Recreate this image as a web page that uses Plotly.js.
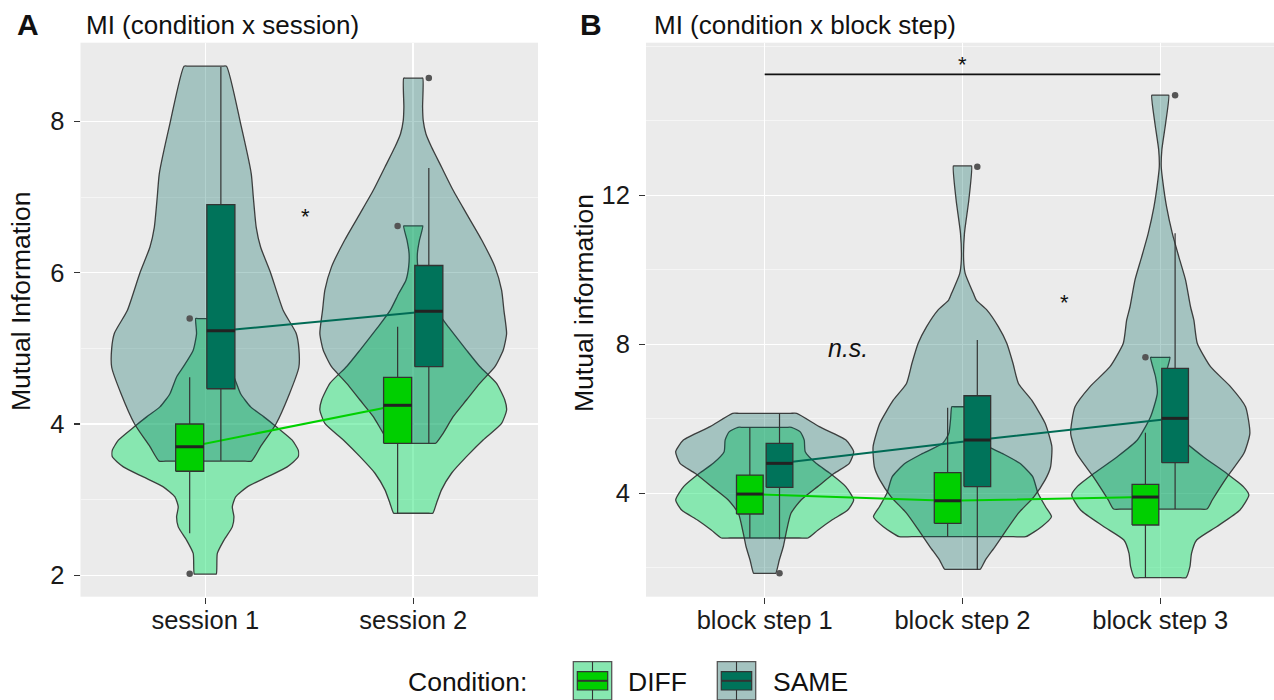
<!DOCTYPE html>
<html>
<head>
<meta charset="utf-8">
<script src="https://cdn.plot.ly/plotly-3.0.1.min.js"></script>
<style>
  html, body { margin: 0; padding: 0; background: #ffffff; }
  #chart { width: 1274px; height: 700px; }
</style>
</head>
<body>
<div id="chart"></div>
<script>
// ---------------- Panel A: MI by condition x session ----------------
const sessions = ['session 1', 'session 2'];

// violin outlines: y values and half-widths (category units)
const diffS1Y = [2.016, 2.289, 2.465, 2.64, 2.773, 2.905, 3.037, 3.169, 3.30, 3.433, 3.566, 3.654, 3.786, 3.96, 4.094, 4.226, 4.40, 4.622, 4.754, 4.975, 5.195, 5.394];
const diffS1W = [0.053, 0.058, 0.09, 0.13, 0.138, 0.13, 0.146, 0.202, 0.298, 0.394, 0.447, 0.447, 0.418, 0.343, 0.282, 0.218, 0.17, 0.138, 0.106, 0.058, 0.042, 0.046];
const sameS1Y = [3.51, 3.7, 4.0, 4.4, 4.75, 5.0, 5.2, 5.5, 6.0, 6.34, 6.6, 7.0, 7.31, 7.97, 8.73];
const sameS1W = [0.222, 0.266, 0.34, 0.405, 0.45, 0.45, 0.437, 0.375, 0.314, 0.266, 0.245, 0.231, 0.221, 0.17, 0.102];
const diffS2Y = [2.82, 2.953, 3.129, 3.349, 3.568, 3.789, 4.009, 4.185, 4.32, 4.54, 4.76, 4.977, 5.28, 5.505, 5.725, 5.9, 6.077, 6.253, 6.429, 6.618];
const diffS2W = [0.094, 0.112, 0.136, 0.184, 0.256, 0.336, 0.425, 0.449, 0.44, 0.40, 0.32, 0.256, 0.17, 0.11, 0.07, 0.035, 0.022, 0.02, 0.03, 0.046];
const sameS2Y = [3.745, 3.877, 4.097, 4.317, 4.537, 4.757, 4.977, 5.197, 5.505, 5.769, 6.077, 6.429, 6.781, 7.089, 7.397, 7.661, 7.837, 8.013, 8.189, 8.572];
const sameS2W = [0.108, 0.144, 0.192, 0.256, 0.32, 0.393, 0.433, 0.449, 0.436, 0.425, 0.393, 0.33, 0.256, 0.192, 0.136, 0.088, 0.061, 0.048, 0.045, 0.046];

// box statistics per session
const diffSessQ1  = [3.375, 3.745];
const diffSessMed = [3.70, 4.247];
const diffSessQ3  = [4.0, 4.617];
const diffSessLo  = [2.557, 2.82];
const diffSessHi  = [4.617, 5.285];
const sameSessQ1  = [4.466, 4.757];
const sameSessMed = [5.232, 5.49];
const sameSessQ3  = [6.90, 6.095];
const sameSessLo  = [3.515, 3.745];
const sameSessHi  = [8.72, 7.384];
// outliers: [category index, value]
const diffSessOut = [[0, 5.395], [0, 2.02], [1, 6.618]];
const sameSessOut = [[1, 8.572]];

// ---------------- Panel B: MI by condition x block step ----------------
const steps = ['block step 1', 'block step 2', 'block step 3'];

const diffB1Y = [2.80, 3.015, 3.283, 3.552, 3.82, 4.18, 4.537, 4.805, 5.118, 5.43, 5.65, 5.772];
const diffB1W = [0.219, 0.27, 0.34, 0.42, 0.45, 0.41, 0.33, 0.26, 0.205, 0.2, 0.18, 0.135];
const sameB1Y = [1.852, 2.21, 2.566, 2.926, 3.463, 3.82, 4.18, 4.537, 4.805, 5.118, 5.431, 5.79, 6.148];
const sameB1W = [0.056, 0.074, 0.094, 0.108, 0.133, 0.184, 0.268, 0.352, 0.428, 0.45, 0.411, 0.276, 0.162];
const diffB2Y = [2.835, 3.104, 3.372, 3.64, 4.0, 4.447, 4.805, 5.074, 5.342, 5.61, 6.0, 6.325];
const diffB2W = [0.32, 0.40, 0.45, 0.42, 0.382, 0.355, 0.29, 0.2, 0.10, 0.069, 0.06, 0.054];
const sameB2Y = [1.96, 2.2, 2.57, 3.0, 3.47, 3.90, 4.36, 4.70, 5.25, 5.88, 6.5, 6.95, 7.5, 8.03, 8.47, 8.92, 9.19, 9.37, 9.90, 10.26, 10.98, 11.87, 12.79];
const sameB2W = [0.09, 0.115, 0.165, 0.22, 0.283, 0.36, 0.418, 0.445, 0.452, 0.418, 0.35, 0.283, 0.255, 0.224, 0.182, 0.124, 0.07, 0.055, 0.014, 0.006, 0.010, 0.032, 0.046];
const diffB3Y = [1.734, 2.03, 2.389, 2.746, 3.104, 3.552, 3.955, 4.18, 4.537, 4.983, 5.431, 6.056, 6.685, 7.13, 7.651];
const diffB3W = [0.13, 0.15, 0.158, 0.184, 0.285, 0.403, 0.448, 0.42, 0.335, 0.217, 0.116, 0.049, 0.015, 0.024, 0.049];
const sameB3Y = [3.578, 3.82, 4.447, 5.074, 5.61, 6.325, 6.86, 7.40, 8.03, 8.65, 9.01, 9.726, 10.35, 10.98, 11.69, 12.41, 12.77, 13.22, 13.93, 14.69];
const sameB3W = [0.236, 0.263, 0.339, 0.423, 0.453, 0.431, 0.356, 0.254, 0.187, 0.17, 0.153, 0.128, 0.094, 0.061, 0.032, 0.012, 0.005, 0.008, 0.027, 0.043];

const diffStepQ1  = [3.444, 3.195, 3.149];
const diffStepMed = [3.98, 3.80, 3.90];
const diffStepQ3  = [4.491, 4.553, 4.242];
const diffStepLo  = [2.80, 2.835, 1.734];
const diffStepHi  = [5.77, 6.3, 5.627];
const sameStepQ1  = [4.16, 4.18, 4.822];
const sameStepMed = [4.805, 5.431, 6.013];
const sameStepQ3  = [5.342, 6.62, 7.356];
const sameStepLo  = [2.765, 1.94, 3.578];
const sameStepHi  = [6.148, 8.116, 10.98];
const diffStepOut = [[2, 7.651]];
const sameStepOut = [[0, 1.852], [1, 12.77], [2, 14.69]];

// significance bracket between block step 1 and block step 3
const bracketSteps = [1, 3];
const bracketLevel = [15.25];

// ---------------- styling ----------------
const FONT = 'Liberation Sans, Arial, Helvetica, sans-serif';
const DIFF_VIOLIN = 'rgba(35,227,117,0.5)';
const SAME_VIOLIN = 'rgba(0,102,92,0.3)';
const DIFF_BOX = '#00CF00';
const SAME_BOX = '#00735A';
const DIFF_LINE = '#00D000';
const SAME_LINE = '#006B55';
const OUTLINE = 'rgba(45,45,45,0.9)';
const DODGE = 0.075;
const BOXW = 0.135;

const traces = [];

// closed violin outline: right side upwards, flat top, left side downwards, flat bottom.
// Extra points just inside each end keep the trimmed ends flat with crisp corners.
function violin(center, ys, ws, fill, xa, ya) {
  const n = ys.length, f = 0.8;
  const x = [center + f * ws[0]], y = [ys[0]];
  for (let i = 0; i < n; i++) { x.push(center + ws[i]); y.push(ys[i]); }
  x.push(center + f * ws[n - 1], center - f * ws[n - 1]); y.push(ys[n - 1], ys[n - 1]);
  for (let i = n - 1; i >= 0; i--) { x.push(center - ws[i]); y.push(ys[i]); }
  x.push(center - f * ws[0], center + f * ws[0]); y.push(ys[0], ys[0]);
  traces.push({
    type: 'scatter', mode: 'lines', x, y, xaxis: xa, yaxis: ya,
    fill: 'toself', fillcolor: fill,
    line: { color: OUTLINE, width: 1.3, shape: 'spline', smoothing: 0.55 },
    hoverinfo: 'skip', showlegend: false
  });
}

function medianLine(offset, med, color, xa, ya) {
  traces.push({
    type: 'scatter', mode: 'lines',
    x: med.map((_, i) => i + 1 + offset), y: med,
    xaxis: xa, yaxis: ya, line: { color, width: 2 },
    hoverinfo: 'skip', showlegend: false
  });
}

function boxes(offset, q1, med, q3, lo, hi, fill, xa, ya) {
  // whiskers
  const wx = [], wy = [];
  q1.forEach((_, i) => { const p = i + 1 + offset; wx.push(p, p, null); wy.push(lo[i], hi[i], null); });
  traces.push({ type: 'scatter', mode: 'lines', x: wx, y: wy, xaxis: xa, yaxis: ya,
    line: { color: '#333333', width: 1.2 }, hoverinfo: 'skip', showlegend: false });
  // boxes
  q1.forEach((_, i) => {
    const p = i + 1 + offset, a = p - BOXW / 2, b = p + BOXW / 2;
    traces.push({ type: 'scatter', mode: 'lines', xaxis: xa, yaxis: ya,
      x: [a, b, b, a, a], y: [q1[i], q1[i], q3[i], q3[i], q1[i]],
      fill: 'toself', fillcolor: fill, line: { color: '#333333', width: 1.3 },
      hoverinfo: 'skip', showlegend: false });
  });
  // medians
  const mx = [], my = [];
  med.forEach((m, i) => { const p = i + 1 + offset; mx.push(p - BOXW / 2, p + BOXW / 2, null); my.push(m, m, null); });
  traces.push({ type: 'scatter', mode: 'lines', x: mx, y: my, xaxis: xa, yaxis: ya,
    line: { color: '#222222', width: 3 }, hoverinfo: 'skip', showlegend: false });
}

function outliers(list, offset, xa, ya) {
  traces.push({ type: 'scatter', mode: 'markers', xaxis: xa, yaxis: ya,
    x: list.map(d => d[0] + 1 + offset), y: list.map(d => d[1]),
    marker: { color: '#555555', size: 6.5 }, hoverinfo: 'skip', showlegend: false });
}

// Panel A
violin(1, diffS1Y, diffS1W, DIFF_VIOLIN, 'x', 'y');
violin(2, diffS2Y, diffS2W, DIFF_VIOLIN, 'x', 'y');
violin(1, sameS1Y, sameS1W, SAME_VIOLIN, 'x', 'y');
violin(2, sameS2Y, sameS2W, SAME_VIOLIN, 'x', 'y');
medianLine(-DODGE, diffSessMed, DIFF_LINE, 'x', 'y');
medianLine(DODGE, sameSessMed, SAME_LINE, 'x', 'y');
boxes(-DODGE, diffSessQ1, diffSessMed, diffSessQ3, diffSessLo, diffSessHi, DIFF_BOX, 'x', 'y');
boxes(DODGE, sameSessQ1, sameSessMed, sameSessQ3, sameSessLo, sameSessHi, SAME_BOX, 'x', 'y');
outliers(diffSessOut, -DODGE, 'x', 'y');
outliers(sameSessOut, DODGE, 'x', 'y');

// Panel B
violin(1, diffB1Y, diffB1W, DIFF_VIOLIN, 'x2', 'y2');
violin(2, diffB2Y, diffB2W, DIFF_VIOLIN, 'x2', 'y2');
violin(3, diffB3Y, diffB3W, DIFF_VIOLIN, 'x2', 'y2');
violin(1, sameB1Y, sameB1W, SAME_VIOLIN, 'x2', 'y2');
violin(2, sameB2Y, sameB2W, SAME_VIOLIN, 'x2', 'y2');
violin(3, sameB3Y, sameB3W, SAME_VIOLIN, 'x2', 'y2');
medianLine(-DODGE, diffStepMed, DIFF_LINE, 'x2', 'y2');
medianLine(DODGE, sameStepMed, SAME_LINE, 'x2', 'y2');
boxes(-DODGE, diffStepQ1, diffStepMed, diffStepQ3, diffStepLo, diffStepHi, DIFF_BOX, 'x2', 'y2');
boxes(DODGE, sameStepQ1, sameStepMed, sameStepQ3, sameStepLo, sameStepHi, SAME_BOX, 'x2', 'y2');
outliers(diffStepOut, -DODGE, 'x2', 'y2');
outliers(sameStepOut, DODGE, 'x2', 'y2');
traces.push({ type: 'scatter', mode: 'lines', xaxis: 'x2', yaxis: 'y2',
  x: bracketSteps, y: [bracketLevel[0], bracketLevel[0]],
  line: { color: '#111111', width: 1.6 }, hoverinfo: 'skip', showlegend: false });

// ---------------- layout ----------------
const W = 1274, H = 700;
const PX = p => p / W;
const PY = p => 1 - p / H;
const yDomain = [PY(596.7), PY(42.7)];

const tickFont = { family: FONT, size: 25.5, color: '#1a1a1a' };
const baseY = {
  ticks: 'outside', ticklen: 6, tickwidth: 1.2, tickcolor: '#333333',
  showgrid: true, gridcolor: '#ffffff', gridwidth: 1.5,
  zeroline: false, showline: false, tickfont: tickFont, ticklabelstandoff: 4,
  minor: { showgrid: true, gridcolor: '#f7f7f7', gridwidth: 0.8, ticks: '' }
};
const baseX = {
  ticks: 'outside', ticklen: 6, tickwidth: 1.2, tickcolor: '#333333',
  showgrid: true, gridcolor: '#ffffff', gridwidth: 1.5,
  zeroline: false, showline: false, tickfont: tickFont, ticklabelstandoff: -5
};

const ann = [];
function text(t, xpx, ypx, size, opts) {
  ann.push(Object.assign({ text: t, x: PX(xpx), y: PY(ypx), xref: 'paper', yref: 'paper',
    xanchor: 'left', yanchor: 'middle', showarrow: false,
    font: { family: FONT, size, color: '#111111' } }, opts || {}));
}
text('<b>A</b>', 15, 25, 30);
text('MI (condition x session)', 84, 24.5, 26);
text('<b>B</b>', 578, 25, 30);
text('MI (condition x block step)', 652, 24.5, 26);
text('Mutual Information', 21, 302, 26.5, { xanchor: 'center', textangle: -90 });
text('Mutual information', 584, 303, 26.5, { xanchor: 'center', textangle: -90 });
text('Condition:', 406, 682, 26.5);
text('DIFF', 626, 682, 26.5);
text('SAME', 771, 682, 26.5);

// significance labels
ann.push({ text: '*', x: 1.484, y: 6.825, xref: 'x', yref: 'y', showarrow: false, yshift: -6,
  font: { family: FONT, size: 22, color: '#111111' } });
ann.push({ text: '*', x: 2.0, y: 15.68, xref: 'x2', yref: 'y2', showarrow: false, yshift: -6,
  font: { family: FONT, size: 22, color: '#111111' } });
ann.push({ text: '*', x: 2.518, y: 9.297, xref: 'x2', yref: 'y2', showarrow: false, yshift: -6,
  font: { family: FONT, size: 22, color: '#111111' } });
ann.push({ text: '<i>n.s.</i>', x: 1.423, y: 7.9, xref: 'x2', yref: 'y2', showarrow: false,
  font: { family: FONT, size: 25, color: '#111111' } });

// legend keys
const shapes = [];
function key(x0, violinFill, boxFill) {
  const x1 = x0 + 38.4, y0 = 661.7, y1 = 700, cx = (x0 + x1) / 2;
  shapes.push({ type: 'rect', xref: 'paper', yref: 'paper', x0: PX(x0), x1: PX(x1), y0: PY(y1), y1: PY(y0),
    fillcolor: '#EBEBEB', line: { width: 0 } });
  shapes.push({ type: 'rect', xref: 'paper', yref: 'paper', x0: PX(x0), x1: PX(x1), y0: PY(y1), y1: PY(y0),
    fillcolor: violinFill, line: { color: '#555555', width: 1.3 } });
  shapes.push({ type: 'line', xref: 'paper', yref: 'paper', x0: PX(cx), x1: PX(cx), y0: PY(y1), y1: PY(y0),
    line: { color: '#333333', width: 1.1 } });
  shapes.push({ type: 'rect', xref: 'paper', yref: 'paper', x0: PX(x0 + 4), x1: PX(x1 - 4), y0: PY(690), y1: PY(671.7),
    fillcolor: boxFill, line: { color: '#333333', width: 1.2 } });
  shapes.push({ type: 'line', xref: 'paper', yref: 'paper', x0: PX(x0 + 4), x1: PX(x1 - 4), y0: PY(680.8), y1: PY(680.8),
    line: { color: '#333333', width: 2 } });
}
key(573.3, DIFF_VIOLIN, DIFF_BOX);
key(717.3, SAME_VIOLIN, SAME_BOX);

const layout = {
  width: W, height: H,
  margin: { l: 0, r: 0, t: 0, b: 0, pad: 0 },
  paper_bgcolor: '#ffffff', plot_bgcolor: '#EBEBEB',
  font: { family: FONT, color: '#111111' },
  showlegend: false,
  xaxis: Object.assign({}, baseX, { domain: [PX(80.5), PX(538)], range: [0.4, 2.6],
    tickvals: [1, 2], ticktext: sessions, anchor: 'y' }),
  yaxis: Object.assign({}, baseY, { domain: yDomain, range: [1.717, 9.04],
    tickvals: [2, 4, 6, 8], anchor: 'x',
    minor: Object.assign({}, baseY.minor, { tickvals: [3, 5, 7] }) }),
  xaxis2: Object.assign({}, baseX, { domain: [PX(646), 1], range: [0.4, 3.575],
    tickvals: [1, 2, 3], ticktext: steps, anchor: 'y2' }),
  yaxis2: Object.assign({}, baseY, { domain: yDomain, range: [1.224, 16.10],
    tickvals: [4, 8, 12], anchor: 'x2',
    minor: Object.assign({}, baseY.minor, { tickvals: [2, 6, 10, 14, 16] }) }),
  annotations: ann,
  shapes: shapes
};

Plotly.newPlot('chart', traces, layout, { displayModeBar: false, staticPlot: true });
</script>
</body>
</html>
